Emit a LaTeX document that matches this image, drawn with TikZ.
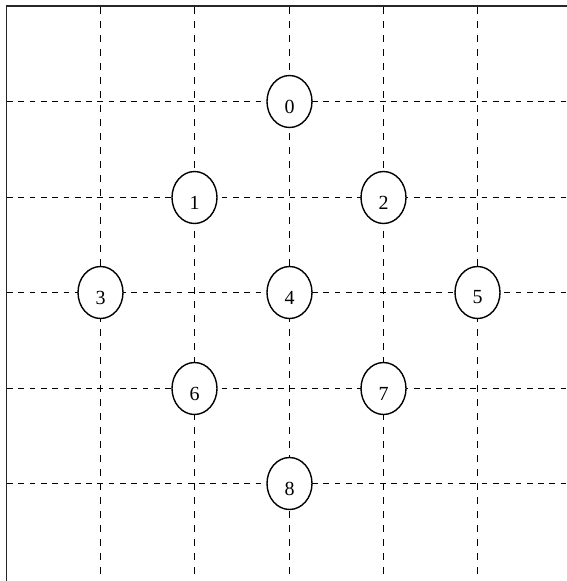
\documentclass[tikz,border=0pt]{standalone}
\usepackage{fontspec}
\setmainfont{Liberation Serif}
\usetikzlibrary{shapes.geometric}
\begin{document}
\begin{tikzpicture}[x=1pt,y=-1pt,
  frameline/.style={line width=1.8pt,black!85},
  hgrid/.style={line width=1.6pt,dash pattern=on 5.7pt off 5.6pt},
  vgrid/.style={line width=1.6pt,dash pattern=on 6.8pt off 7.2pt},
  ell/.style={ellipse,draw,line width=1.4pt,fill=white,minimum width=45pt,minimum height=52pt,inner sep=0pt},
  lab/.style={font=\fontsize{20}{22}\selectfont,yshift=-5pt}]
\useasboundingbox (0,0) rectangle (567,581);
\foreach \x in {100.5,194.5,289.5,383.5,477.5}
  \draw[vgrid] (\x,7) -- (\x,581);
\foreach \y in {101.5,197.5,292.5,388.5,483.5}
  \draw[hgrid] (7,\y) -- (567,\y);
\draw[frameline] (6.5,581) -- (6.5,6) -- (567,6);
\node[ell,label={[lab]center:0}] (n0) at (289.5,101.5) {};
\node[ell,label={[lab]center:1}] (n1) at (194.5,197.5) {};
\node[ell,label={[lab]center:2}] (n2) at (383.5,197.5) {};
\node[ell,label={[lab]center:3}] (n3) at (100.5,292.5) {};
\node[ell,label={[lab]center:4}] (n4) at (289.5,292.5) {};
\node[ell,label={[lab]center:5}] (n5) at (477.5,292.5) {};
\node[ell,label={[lab]center:6}] (n6) at (194.5,388.5) {};
\node[ell,label={[lab]center:7}] (n7) at (383.5,388.5) {};
\node[ell,label={[lab]center:8}] (n8) at (289.5,483.5) {};
\end{tikzpicture}
\end{document}
